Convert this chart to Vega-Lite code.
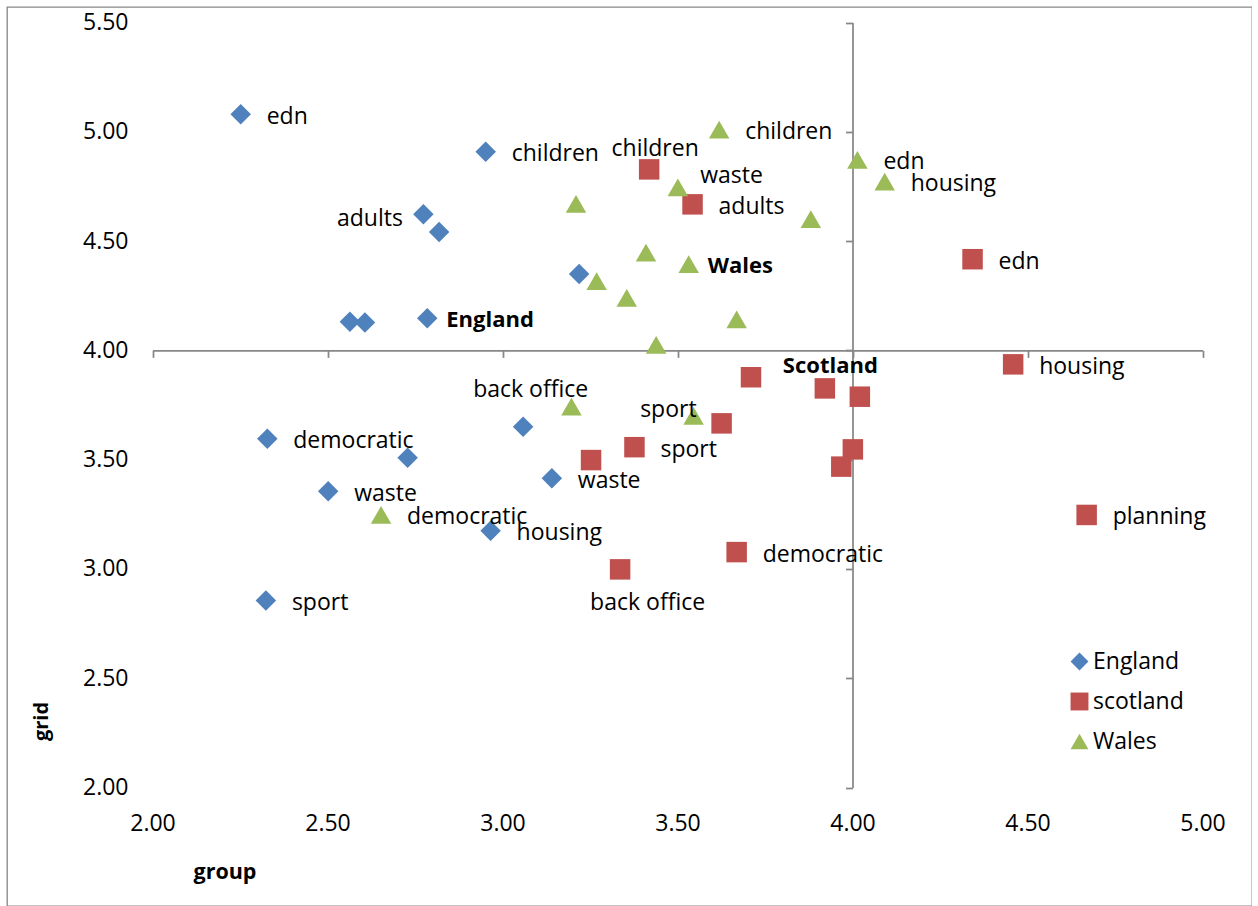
{
  "$schema": "https://vega.github.io/schema/vega-lite/v6.json",
  "width": 1245,
  "height": 899,
  "autosize": {"type": "none"},
  "padding": {"left": 7, "top": 7, "right": 0, "bottom": 0},
  "background": "white",
  "config": {
    "font": "Open Sans",
    "view": {"stroke": "#878787", "strokeWidth": 1.3},
    "axis": {"grid": false}
  },
  "data": {
    "values": [
      {"series": "England", "x": 2.252, "y": 5.080, "label": "edn", "pos": "r"},
      {"series": "England", "x": 2.952, "y": 4.909, "label": "children", "pos": "r"},
      {"series": "England", "x": 2.774, "y": 4.623, "label": "adults", "pos": "l"},
      {"series": "England", "x": 2.819, "y": 4.542, "label": "", "pos": ""},
      {"series": "England", "x": 3.219, "y": 4.349, "label": "", "pos": ""},
      {"series": "England", "x": 2.564, "y": 4.131, "label": "", "pos": ""},
      {"series": "England", "x": 2.607, "y": 4.127, "label": "", "pos": ""},
      {"series": "England", "x": 2.785, "y": 4.147, "label": "England", "pos": "rb"},
      {"series": "England", "x": 3.059, "y": 3.651, "label": "back office", "pos": "aa"},
      {"series": "England", "x": 2.328, "y": 3.596, "label": "democratic", "pos": "r"},
      {"series": "England", "x": 2.729, "y": 3.509, "label": "", "pos": ""},
      {"series": "England", "x": 2.502, "y": 3.355, "label": "waste", "pos": "r"},
      {"series": "England", "x": 3.141, "y": 3.415, "label": "waste", "pos": "r"},
      {"series": "England", "x": 2.966, "y": 3.175, "label": "housing", "pos": "r"},
      {"series": "England", "x": 2.324, "y": 2.856, "label": "sport", "pos": "r"},
      {"series": "scotland", "x": 3.419, "y": 4.828, "label": "children", "pos": "a"},
      {"series": "scotland", "x": 3.543, "y": 4.668, "label": "adults", "pos": "r"},
      {"series": "scotland", "x": 4.343, "y": 4.417, "label": "edn", "pos": "r"},
      {"series": "scotland", "x": 4.459, "y": 3.936, "label": "housing", "pos": "r"},
      {"series": "scotland", "x": 3.710, "y": 3.877, "label": "", "pos": ""},
      {"series": "scotland", "x": 3.921, "y": 3.826, "label": "Scotland", "pos": "ab"},
      {"series": "scotland", "x": 4.021, "y": 3.788, "label": "", "pos": ""},
      {"series": "scotland", "x": 3.626, "y": 3.666, "label": "", "pos": ""},
      {"series": "scotland", "x": 3.377, "y": 3.557, "label": "sport", "pos": "r"},
      {"series": "scotland", "x": 3.253, "y": 3.498, "label": "", "pos": ""},
      {"series": "scotland", "x": 4.001, "y": 3.547, "label": "", "pos": ""},
      {"series": "scotland", "x": 3.968, "y": 3.468, "label": "", "pos": ""},
      {"series": "scotland", "x": 4.669, "y": 3.247, "label": "planning", "pos": "r"},
      {"series": "scotland", "x": 3.669, "y": 3.077, "label": "democratic", "pos": "r"},
      {"series": "scotland", "x": 3.336, "y": 2.998, "label": "back office", "pos": "b"},
      {"series": "Wales", "x": 3.619, "y": 5.010, "label": "children", "pos": "r"},
      {"series": "Wales", "x": 4.014, "y": 4.871, "label": "edn", "pos": "r"},
      {"series": "Wales", "x": 3.501, "y": 4.746, "label": "waste", "pos": "ar"},
      {"series": "Wales", "x": 4.092, "y": 4.772, "label": "housing", "pos": "r"},
      {"series": "Wales", "x": 3.210, "y": 4.670, "label": "", "pos": ""},
      {"series": "Wales", "x": 3.881, "y": 4.600, "label": "", "pos": ""},
      {"series": "Wales", "x": 3.410, "y": 4.447, "label": "", "pos": ""},
      {"series": "Wales", "x": 3.532, "y": 4.395, "label": "Wales", "pos": "rb"},
      {"series": "Wales", "x": 3.269, "y": 4.317, "label": "", "pos": ""},
      {"series": "Wales", "x": 3.355, "y": 4.240, "label": "", "pos": ""},
      {"series": "Wales", "x": 3.669, "y": 4.142, "label": "", "pos": ""},
      {"series": "Wales", "x": 3.439, "y": 4.025, "label": "", "pos": ""},
      {"series": "Wales", "x": 3.197, "y": 3.742, "label": "", "pos": ""},
      {"series": "Wales", "x": 3.546, "y": 3.700, "label": "sport", "pos": "al"},
      {"series": "Wales", "x": 2.653, "y": 3.247, "label": "democratic", "pos": "r"}
    ]
  },
  "layer": [
    {
      "mark": {"type": "point", "filled": true, "opacity": 1, "size": 420, "strokeWidth": 0},
      "encoding": {
        "x": {
          "field": "x", "type": "quantitative",
          "scale": {"domain": [2, 5], "range": [145.5, 1195.5], "nice": false, "zero": false},
          "axis": {
            "orient": "bottom", "offset": -83, "domain": false, "ticks": false, "tickSize": 0, "grid": false,
            "values": [2, 2.5, 3, 3.5, 4, 4.5, 5], "format": ".2f",
            "labelFont": "Open Sans", "labelFontSize": 23, "labelColor": "#000000", "labelPadding": 0,
            "labelBaseline": "middle", "labelAlign": "center", "labelFlush": false, "labelOverlap": false, "labelBound": false,
            "title": "group", "titleFont": "Open Sans", "titleFontSize": 21.5, "titleFontWeight": "bold", "titleColor": "#000000",
            "titleX": 217.5, "titleY": 55, "titleAlign": "center", "titleBaseline": "alphabetic", "titleAngle": 0
          }
        },
        "y": {
          "field": "y", "type": "quantitative",
          "scale": {"domain": [2, 5.5], "range": [780.5, 15.5], "nice": false, "zero": false},
          "axis": {
            "orient": "left", "offset": -121, "domain": false, "ticks": false, "tickSize": 0, "grid": false,
            "values": [2, 2.5, 3, 3.5, 4, 4.5, 5, 5.5], "format": ".2f",
            "labelFont": "Open Sans", "labelFontSize": 23, "labelColor": "#000000", "labelPadding": 0,
            "labelBaseline": "middle", "labelAlign": "right", "labelFlush": false, "labelOverlap": false, "labelBound": false,
            "title": "grid", "titleFont": "Open Sans", "titleFontSize": 20, "titleFontWeight": "bold", "titleColor": "#000000",
            "titleX": -81, "titleY": 714, "titleAlign": "center", "titleBaseline": "alphabetic", "titleAngle": -90
          }
        },
        "color": {
          "field": "series", "type": "nominal",
          "scale": {"domain": ["England", "scotland", "Wales"], "range": ["#4F81BD", "#C0504D", "#9BBB59"]},
          "legend": {
            "orient": "none", "legendX": 1061, "legendY": 643, "title": null, "padding": 0,
            "labelFont": "Open Sans", "labelFontSize": 23, "labelColor": "#000000", "labelOffset": 2,
            "symbolSize": 320, "symbolStrokeWidth": 0, "rowPadding": 16
          }
        },
        "shape": {
          "field": "series", "type": "nominal",
          "scale": {"domain": ["England", "scotland", "Wales"], "range": ["diamond", "square", "triangle-up"]}
        }
      }
    },
    {
      "transform": [{"filter": "datum.pos === 'r'"}],
      "mark": {"type": "text", "align": "left", "baseline": "middle", "dx": 26, "dy": 2.5, "font": "Open Sans", "fontSize": 23, "color": "#000000"},
      "encoding": {
        "x": {
          "field": "x", "type": "quantitative",
          "axis": {
            "orient": "bottom", "offset": -555.64, "domain": true, "domainColor": "#878787", "domainWidth": 1.75,
            "ticks": true, "tickSize": 7, "tickColor": "#878787", "tickWidth": 1.75, "labels": false, "grid": false,
            "values": [2, 2.5, 3, 3.5, 4, 4.5, 5], "title": null
          }
        },
        "y": {
          "field": "y", "type": "quantitative",
          "axis": {
            "orient": "left", "offset": -845.5, "domain": true, "domainColor": "#878787", "domainWidth": 1.75,
            "ticks": true, "tickSize": 7, "tickColor": "#878787", "tickWidth": 1.75, "labels": false, "grid": false,
            "values": [2, 2.5, 3, 3.5, 4, 4.5, 5, 5.5], "title": null
          }
        },
        "text": {"field": "label"}
      }
    },
    {
      "transform": [{"filter": "datum.pos === 'rb'"}],
      "mark": {"type": "text", "align": "left", "baseline": "middle", "dx": 19, "dy": 2, "font": "Open Sans", "fontSize": 22, "fontWeight": "bold", "color": "#000000"},
      "encoding": {
        "x": {"field": "x", "type": "quantitative", "axis": null},
        "y": {"field": "y", "type": "quantitative", "axis": null},
        "text": {"field": "label"}
      }
    },
    {
      "transform": [{"filter": "datum.pos === 'l'"}],
      "mark": {"type": "text", "align": "right", "baseline": "middle", "dx": -20.5, "dy": 4.5, "font": "Open Sans", "fontSize": 23, "color": "#000000"},
      "encoding": {
        "x": {"field": "x", "type": "quantitative", "axis": null},
        "y": {"field": "y", "type": "quantitative", "axis": null},
        "text": {"field": "label"}
      }
    },
    {
      "transform": [{"filter": "datum.pos === 'a'"}],
      "mark": {"type": "text", "align": "center", "baseline": "middle", "dx": 6, "dy": -20, "font": "Open Sans", "fontSize": 23, "color": "#000000"},
      "encoding": {
        "x": {"field": "x", "type": "quantitative", "axis": null},
        "y": {"field": "y", "type": "quantitative", "axis": null},
        "text": {"field": "label"}
      }
    },
    {
      "transform": [{"filter": "datum.pos === 'ab'"}],
      "mark": {"type": "text", "align": "center", "baseline": "middle", "dx": 5.5, "dy": -22.5, "font": "Open Sans", "fontSize": 22, "fontWeight": "bold", "color": "#000000"},
      "encoding": {
        "x": {"field": "x", "type": "quantitative", "axis": null},
        "y": {"field": "y", "type": "quantitative", "axis": null},
        "text": {"field": "label"}
      }
    },
    {
      "transform": [{"filter": "datum.pos === 'aa'"}],
      "mark": {"type": "text", "align": "center", "baseline": "middle", "dx": 7.5, "dy": -36.5, "font": "Open Sans", "fontSize": 23, "color": "#000000"},
      "encoding": {
        "x": {"field": "x", "type": "quantitative", "axis": null},
        "y": {"field": "y", "type": "quantitative", "axis": null},
        "text": {"field": "label"}
      }
    },
    {
      "transform": [{"filter": "datum.pos === 'b'"}],
      "mark": {"type": "text", "align": "center", "baseline": "middle", "dx": 27.5, "dy": 33.5, "font": "Open Sans", "fontSize": 23, "color": "#000000"},
      "encoding": {
        "x": {"field": "x", "type": "quantitative", "axis": null},
        "y": {"field": "y", "type": "quantitative", "axis": null},
        "text": {"field": "label"}
      }
    },
    {
      "transform": [{"filter": "datum.pos === 'ar'"}],
      "mark": {"type": "text", "align": "left", "baseline": "middle", "dx": 22.3, "dy": -11.3, "font": "Open Sans", "fontSize": 23, "color": "#000000"},
      "encoding": {
        "x": {"field": "x", "type": "quantitative", "axis": null},
        "y": {"field": "y", "type": "quantitative", "axis": null},
        "text": {"field": "label"}
      }
    },
    {
      "transform": [{"filter": "datum.pos === 'al'"}],
      "mark": {"type": "text", "align": "right", "baseline": "middle", "dx": 3, "dy": -6, "font": "Open Sans", "fontSize": 23, "color": "#000000"},
      "encoding": {
        "x": {"field": "x", "type": "quantitative", "axis": null},
        "y": {"field": "y", "type": "quantitative", "axis": null},
        "text": {"field": "label"}
      }
    }
  ],
  "resolve": {"axis": {"x": "independent", "y": "independent"}}
}
